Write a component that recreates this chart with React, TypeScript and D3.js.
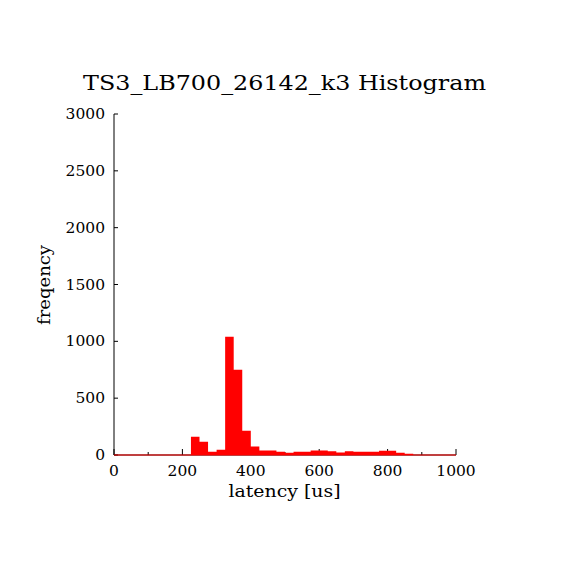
import React from "react";
import * as d3 from "d3";

const title = "TS3_LB700_26142_k3 Histogram";
const xLabel = "latency [us]";
const yLabel = "freqency";
const binStart = [0, 25, 50, 75, 100, 125, 150, 175, 200, 225, 250, 275, 300, 325, 350, 375, 400, 425, 450, 475, 500, 525, 550, 575, 600, 625, 650, 675, 700, 725, 750, 775, 800, 825, 850, 875, 900, 925, 950, 975];
const binCounts = [0, 0, 0, 0, 0, 0, 0, 0, 0, 161, 117, 29, 47, 1041, 750, 214, 75, 40, 40, 29, 20, 29, 29, 40, 40, 32, 23, 32, 29, 29, 29, 38, 38, 20, 11, 0, 0, 0, 0, 0];
const binWidth = 25;
const xMajorTicks = [0, 200, 400, 600, 800, 1000];
const xMinorTicks = [100, 300, 500, 700, 900];
const yTicks = [0, 500, 1000, 1500, 2000, 2500, 3000];

export default function App() {
  const W = 570, H = 570;
  const x = d3.scaleLinear().domain([0, 1000]).range([114, 456]);
  const y = d3.scaleLinear().domain([0, 3000]).range([455, 114]);
  const font = "'DejaVu Serif', 'Liberation Serif', serif";
  const pts: [number, number][] = binStart.map((b, i) => [b, binCounts[i]]);
  pts.push([binStart[binStart.length - 1] + binWidth, 0]);
  const area = d3
    .area<[number, number]>()
    .x((d) => x(d[0]))
    .y0(y(0))
    .y1((d) => y(d[1]))
    .curve(d3.curveStepAfter);
  return (
    <svg width={W} height={H} style={{ position: "absolute", left: 0, top: 0, background: "#fff" }}>
      <rect x={0} y={0} width={W} height={H} fill="#fff" />
      <text x={284.5} y={90} textAnchor="middle" fontFamily={font} fontSize={21} textLength={403} lengthAdjust="spacingAndGlyphs" fill="#000">{title}</text>
      <line x1={x(0)} x2={x(0)} y1={y(3000)} y2={y(0)} stroke="#000" strokeWidth={1} />
      <line x1={x(0)} x2={x(1000)} y1={y(0)} y2={y(0)} stroke="#000" strokeWidth={1} />
      {yTicks.map((t) => (
        <g key={"y" + t}>
          <line x1={x(0)} x2={x(0) + 4} y1={y(t)} y2={y(t)} stroke="#000" />
          <text x={x(0) - 9} y={y(t) + 5} textAnchor="end" fontFamily={font} fontSize={15.5} fill="#000">{t}</text>
        </g>
      ))}
      {xMajorTicks.map((t) => (
        <g key={"x" + t}>
          <line x1={x(t)} x2={x(t)} y1={y(0)} y2={y(0) - 6} stroke="#000" />
          <text x={x(t)} y={476} textAnchor="middle" fontFamily={font} fontSize={15.5} fill="#000">{t}</text>
        </g>
      ))}
      {xMinorTicks.map((t) => (
        <line key={"m" + t} x1={x(t)} x2={x(t)} y1={y(0)} y2={y(0) - 3} stroke="#000" />
      ))}
      <path d={area(pts) || ""} fill="#ff0000" />
      <line x1={x(0)} x2={x(1000)} y1={y(0)} y2={y(0)} stroke="#ff0000" strokeWidth={1.2} />
      <text x={284.5} y={497} textAnchor="middle" fontFamily={font} fontSize={16} textLength={112} lengthAdjust="spacingAndGlyphs" fill="#000">{xLabel}</text>
      <text transform="translate(50,285) rotate(-90)" textAnchor="middle" fontFamily={font} fontSize={16} textLength={80} lengthAdjust="spacingAndGlyphs" fill="#000">{yLabel}</text>
    </svg>
  );
}
